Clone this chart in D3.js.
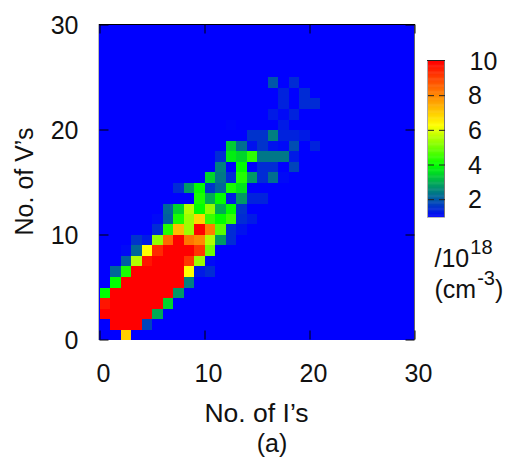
<!DOCTYPE html>
<html><head><meta charset="utf-8">
<script src="https://cdn.jsdelivr.net/npm/d3@7"></script>
<style>html,body{margin:0;padding:0;background:#fff}svg{display:block}text{font-family:"Liberation Sans",Arial,sans-serif;fill:#111}</style>
</head><body><svg id="c" width="509" height="461"></svg>
<script>
const gridSize = 30;
const axisTicks = [0, 10, 20, 30];
const barTicks = [2, 4, 6, 8, 10];
const R = 10;
// concentration per cell: row index = No. of V's, column index = No. of I's (unlisted cells = 1)
const concentration = [
 [1,1,7,1],
 [1,R,R,R,1.8],
 [R,R,R,R,R,3],
 [9.7,R,R,R,R,R,3.5],
 [4,R,R,R,R,R,R,2.8],
 [1,4,R,R,R,R,R,R,2.5],
 [1,2.2,4.2,R,R,R,R,R,6.3,1.3,1.5],
 [1,1,2.1,5.6,9.7,R,R,R,9.2,5.4,1.1],
 [1,1,1.1,2.2,6.3,9.4,R,R,R,9.2,5],
 [1,1,1,1.6,1.3,5.3,8.5,R,8.3,8,5.6,2.8,1.5],
 [1,1,1,1,1,1.5,4.3,7.3,5.4,R,8.2,4.8,1.5,1.2],
 [1,1,1,1,1,1.1,2.1,4.2,5.4,6.9,4.5,4,4.5,1.5,1.3],
 [1,1,1,1,1,1,2.2,3.5,5.6,4,5.3,3,4,1.6],
 [1,1,1,1,1,1,1,1,1,4.2,3,4,1.3,2.8,1.4,1.4],
 [1,1,1,1,1,1,1,1.5,2.8,4,1.6,2.2,4.2,3.7],
 [1,1,1,1,1,1,1,1,1,1,3.5,2.4,1.5,4.3,2.8,1.5,2.3,1.1],
 [1,1,1,1,1,1,1,1,1,1,1,2.5,1,4,1,1.5,1.5,1,1.8],
 [1,1,1,1,1,1,1,1,1,1,1,1.5,3.8,3.5,4.4,2.4,2.4,2.4,1.3],
 [1,1,1,1,1,1,1,1,1,1,1,1,3.4,2.3,1.2,1.6,1.2,1.1,1.9,1,1.4],
 [1,1,1,1,1,1,1,1,1,1,1,1,1,1,1.6,1.6,2.5,1.4,1.4,1.3],
 [1,1,1,1,1,1,1,1,1,1,1,1,1.05,1,1,1,1,1.3],
 [1,1,1,1,1,1,1,1,1,1,1,1,1,1,1,1,1.3,1.1,1.4],
 [1,1,1,1,1,1,1,1,1,1,1,1,1,1,1,1,1,1.4,1,1.5,1.5],
 [1,1,1,1,1,1,1,1,1,1,1,1,1,1,1,1,1,1.4,1,1.5],
 [1,1,1,1,1,1,1,1,1,1,1,1,1,1,1,1,2,1,1.5]
];
const FS = 25;
const svg = d3.select("#c");
const x = d3.scaleLinear().domain([0, gridSize]).range([99.5, 414.5]);
const y = d3.scaleLinear().domain([0, gridSize]).range([339.5, 24.5]);
const color = d3.scaleLinear().domain([1, 4, 6.3, 10])
  .range(["#0000ff", "#00ff00", "#ffff00", "#ff0000"]).clamp(true);

svg.append("rect").attr("x", 99).attr("y", 25).attr("width", 315).attr("height", 315).attr("fill", color(1));
concentration.forEach((row, r) => row.forEach((v, c) => {
  if (v <= 1) return;
  const x0 = Math.round(x(c)), x1 = Math.round(x(c + 1));
  const y0 = Math.round(y(r + 1) + 0.5), y1 = Math.round(y(r) + 0.5);
  svg.append("rect").attr("x", x0).attr("y", y0)
    .attr("width", x1 - x0).attr("height", y1 - y0)
    .attr("fill", color(v));
}));

// frame: dark top, lighter sides, as in the reference
svg.append("line").attr("x1", 98.5).attr("x2", 98.5).attr("y1", 24).attr("y2", 340).attr("stroke", "#bbb");
svg.append("line").attr("x1", 414.5).attr("x2", 414.5).attr("y1", 24).attr("y2", 340).attr("stroke", "#666");
svg.append("line").attr("x1", 99).attr("x2", 415).attr("y1", 24.5).attr("y2", 24.5).attr("stroke", "#000");

function styleAxis(g) {
  g.select(".domain").remove();
  g.selectAll("line").attr("stroke", "#000").attr("stroke-width", 1);
  g.selectAll("text").attr("font-size", FS);
}
const tl = 9;
const ax = svg.append("g").attr("transform", `translate(0,${y(0)})`)
  .call(d3.axisBottom(x).tickValues(axisTicks).tickSize(-tl).tickPadding(0)).call(styleAxis);
ax.selectAll("text").attr("dy", 0).attr("y", 42.5).attr("dx", 3.5);
const ay = svg.append("g").attr("transform", `translate(${x(0)},0)`)
  .call(d3.axisLeft(y).tickValues(axisTicks).tickSize(-tl).tickPadding(0)).call(styleAxis);
ay.selectAll("text").attr("dy", 0).attr("y", 8.5).attr("x", -21);
svg.append("g").attr("transform", `translate(0,${y(30)})`)
  .call(d3.axisTop(x).tickValues(axisTicks).tickSize(-tl).tickFormat("")).call(styleAxis);
svg.append("g").attr("transform", `translate(${x(30)},0)`)
  .call(d3.axisRight(y).tickValues(axisTicks).tickSize(-tl).tickFormat("")).call(styleAxis);

// colour bar
const cb = d3.scaleLinear().domain([1, 10]).range([217, 61]);
const barX = 428, barW = 17;
const barSteps = d3.range(1, 10, 0.05);
svg.append("g").selectAll("rect").data(barSteps).join("rect")
  .attr("x", barX).attr("y", d => cb(d + 0.05)).attr("width", barW)
  .attr("height", d => cb(d) - cb(d + 0.05) + 0.5).attr("fill", d => color(d + 0.025));
svg.append("line").attr("x1", barX - 0.5).attr("x2", barX - 0.5).attr("y1", 61).attr("y2", 218).attr("stroke", "#aaa");
svg.append("line").attr("x1", barX + barW - 0.5).attr("x2", barX + barW - 0.5).attr("y1", 61).attr("y2", 218).attr("stroke", "#777");
svg.append("line").attr("x1", barX - 1).attr("x2", barX + barW).attr("y1", 60.5).attr("y2", 60.5).attr("stroke", "#222");
svg.append("line").attr("x1", barX - 1).attr("x2", barX + barW).attr("y1", 217.5).attr("y2", 217.5).attr("stroke", "#bbb");
barTicks.forEach(t => {
  if (t < 10) {
    svg.append("line").attr("x1", barX).attr("x2", barX + 6).attr("y1", cb(t)).attr("y2", cb(t)).attr("stroke", "#222");
    svg.append("line").attr("x1", barX + barW - 6).attr("x2", barX + barW).attr("y1", cb(t)).attr("y2", cb(t)).attr("stroke", "#222");
  }
  svg.append("text").attr("x", t === 10 ? 469.5 : 468).attr("y", cb(t) + 8.8).attr("font-size", FS).text(t);
});

const t = (px, py, s, anchor) => svg.append("text").attr("x", px).attr("y", py)
  .attr("font-size", FS).attr("text-anchor", anchor || "middle").text(s);
t(256.5, 422, "No. of I\u2019s").attr("font-size", 26.5);
t(272, 451.5, "(a)");
svg.append("text").attr("transform", "translate(33,181.5) rotate(-90)").attr("font-size", FS)
  .attr("text-anchor", "middle").text("No. of V\u2019s");
const l1 = t(434.5, 267, "/10", "start");
l1.append("tspan").attr("font-size", 20).attr("dy", -13).attr("dx", 1).text("18");
const l2 = t(434.5, 298, "(cm", "start");
l2.append("tspan").attr("font-size", 20).attr("dy", -13).attr("dx", 1).text("-3");
l2.append("tspan").attr("dy", 13).text(")");
</script></body></html>
